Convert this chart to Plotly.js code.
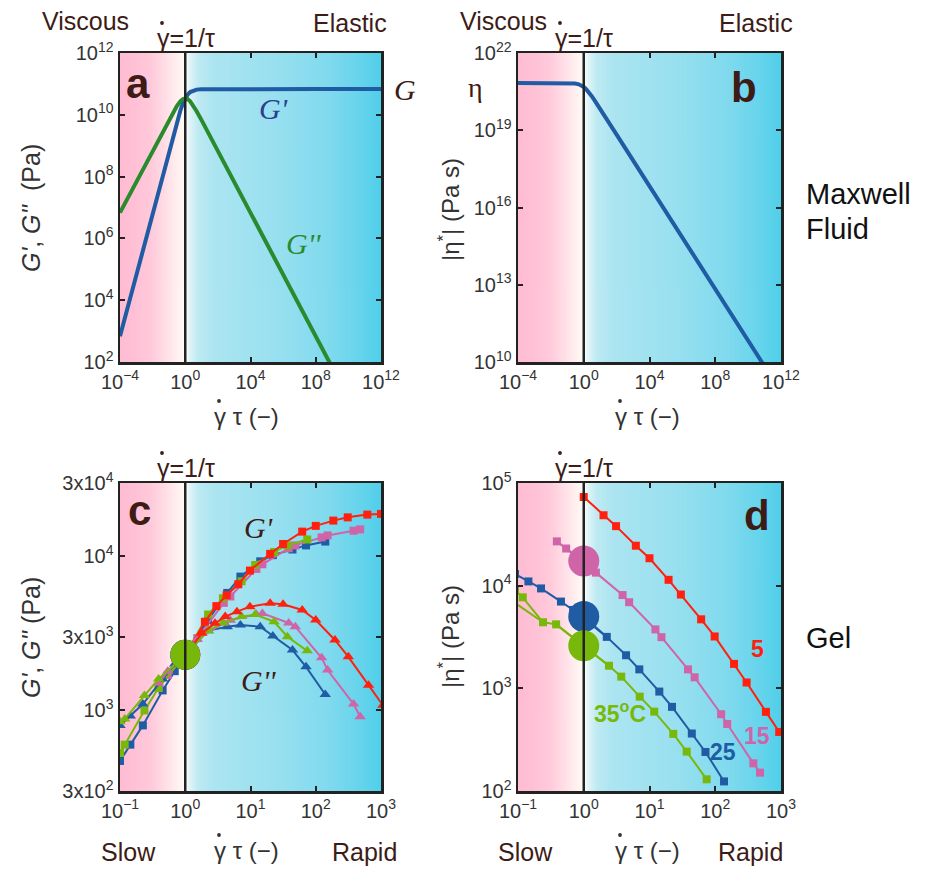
<!DOCTYPE html>
<html><head><meta charset="utf-8">
<script src="https://cdn.plot.ly/plotly-3.0.1.min.js"></script>
<style>html,body{margin:0;padding:0;background:#fff}#plot{width:925px;height:869px}</style>
</head><body><div id="plot"></div>
<script>
// ---------- Panel a: Maxwell fluid moduli ----------
const xA = [1e-4, 1e-3, 1e-2, 0.1, 0.3, 0.5, 0.7, 1, 1.4, 2, 3, 5, 10, 100, 1e4, 1e8, 1e12];
const aGp = [6.8e2, 6.8e4, 6.8e6, 6.73e8, 5.6e9, 1.36e10, 2.24e10, 3.4e10, 4.5e10, 5.44e10, 6.12e10, 6.54e10, 6.73e10, 6.8e10, 6.8e10, 6.8e10, 6.8e10];
const xA2 = [1e-4, 1e-3, 1e-2, 0.1, 0.3, 0.5, 0.7, 1, 1.4, 2, 3, 5, 10, 100, 1e4, 1e8, 1e9];
const aGpp = [6.8e6, 6.8e7, 6.8e8, 6.73e9, 1.87e10, 2.72e10, 3.19e10, 3.4e10, 3.22e10, 2.72e10, 2.04e10, 1.31e10, 6.73e9, 6.8e8, 6.8e6, 6.8e2, 68];
// ---------- Panel b: Maxwell fluid complex viscosity ----------
const xB = [1e-4, 1e-2, 0.1, 0.3, 0.5, 0.7, 1, 1.4, 2, 3, 5, 10, 100, 1e4, 1e8, 1e12];
const bEta = [6.8e20, 6.8e20, 6.77e20, 6.51e20, 6.08e20, 5.57e20, 4.81e20, 3.95e20, 3.04e20, 2.15e20, 1.33e20, 6.77e19, 6.8e18, 6.8e16, 6.8e12, 6.8e8];
// ---------- Panel c: gel moduli at 5, 15, 25, 35 °C ----------
const cRedX   = [1, 2.0, 3.0, 4.3, 6.5, 9.8, 20, 31.6, 62, 100, 186, 309, 617, 1000];
const cRedGp  = [2300, 3770, 4760, 5600, 6600, 8100, 10400, 12050, 14500, 15800, 17100, 17950, 18700, 18900];
const cRedX2  = [1, 1.8, 2.86, 4.1, 6.2, 9.8, 20, 31.6, 62, 100, 197, 316, 645, 1070];
const cRedGpp = [2300, 3170, 3680, 4070, 4380, 4720, 4960, 4900, 4490, 3870, 2870, 2230, 1460, 1080];
const cPinkX  = [0.39, 0.54, 1, 1.53, 3.9, 4.9, 12.3, 15.2, 38.5, 48.6, 123, 152, 380, 480];
const cPinkGp = [1400, 1700, 2300, 2950, 5000, 5500, 8300, 8900, 11300, 11800, 13300, 13700, 14700, 15000];
const cPinkGpp= [1500, 1800, 2300, 2900, 3700, 3850, 4200, 4270, 3700, 3500, 2200, 1830, 1100, 912];
const cBlueX  = [0.1, 0.144, 0.224, 0.45, 0.69, 1, 2.24, 4.4, 7, 14.1, 22, 44, 71, 140];
const cBlueGp = [470, 600, 800, 1350, 1800, 2300, 3870, 5800, 7400, 9300, 10200, 11100, 11800, 12500];
const cBlueGpp= [800, 920, 1100, 1600, 2000, 2300, 3300, 3500, 3590, 3500, 3050, 2470, 1920, 1270];
const cGreenX  = [0.1, 0.118, 0.237, 0.39, 1, 2.24, 3.78, 7.3, 11.8, 23, 36.8, 74];
const cGreenGp = [530, 600, 1000, 1400, 2300, 4200, 5350, 6900, 8800, 10700, 11800, 12900];
const cGreenGpp= [845, 880, 1250, 1600, 2300, 3300, 3700, 4070, 4200, 3770, 3010, 2440];
const cCross = [2300];
// ---------- Panel d: gel complex viscosity ----------
const dRedX = [1, 2.0, 3.1, 6.2, 10, 19.5, 30, 61, 98, 193, 300, 590, 940];
const dRed  = [73000, 48500, 38000, 24500, 18500, 11400, 8200, 4700, 3200, 1730, 1140, 590, 376];
const dPinkX = [0.39, 0.54, 1.53, 3.9, 4.9, 12.3, 15.2, 38.5, 48.6, 123, 152, 380, 480];
const dPink  = [27000, 23000, 13400, 8100, 6900, 3750, 3150, 1530, 1280, 560, 450, 186, 151];
const dBlueX = [0.09, 0.144, 0.224, 0.45, 0.69, 2.24, 4.4, 7, 14.1, 22, 44, 71, 136];
const dBlue  = [13000, 11000, 9400, 7000, 5800, 3170, 2100, 1530, 930, 660, 363, 240, 124];
const dGreenX = [0.09, 0.118, 0.24, 0.38, 2.42, 3.72, 7.1, 11.8, 23, 36.8, 74];
const dGreen  = [9000, 7700, 4400, 4200, 1660, 1300, 830, 593, 360, 242, 130];
const dGreenLoopX = [0.09, 0.24];
const dGreenLoop  = [6800, 4400];
const dDotX = [1, 1, 1];
const dDotY = [17400, 5000, 2600];
// tick labels
const tA_x = [1e-4, 1, 1e4, 1e8, 1e12], tA_xt = ['10<sup>−4</sup>','10<sup>0</sup>','10<sup>4</sup>','10<sup>8</sup>','10<sup>12</sup>'];
const tA_y = [1e2,1e4,1e6,1e8,1e10,1e12], tA_yt = ['10<sup>2</sup>','10<sup>4</sup>','10<sup>6</sup>','10<sup>8</sup>','10<sup>10</sup>','10<sup>12</sup>'];
const tB_y = [1e10,1e13,1e16,1e19,1e22], tB_yt = ['10<sup>10</sup>','10<sup>13</sup>','10<sup>16</sup>','10<sup>19</sup>','10<sup>22</sup>'];
const tC_x = [0.1,1,10,100,1000], tC_xt = ['10<sup>−1</sup>','10<sup>0</sup>','10<sup>1</sup>','10<sup>2</sup>','10<sup>3</sup>'];
const tC_y = [300,1000,3000,10000,30000], tC_yt = ['3x10<sup>2</sup>','10<sup>3</sup>','3x10<sup>3</sup>','10<sup>4</sup>','3x10<sup>4</sup>'];
const tD_y = [100,1000,10000,100000], tD_yt = ['10<sup>2</sup>','10<sup>3</sup>','10<sup>4</sup>','10<sup>5</sup>'];

const RED='#FF2010', PINK='#CF64A8', BLUE='#1F5CA4', GREEN='#78B80A', BROWN='#3D1C16';
const W=925, H=869;
const px = v => v/W, py = v => 1 - v/H;
const dXL=[px(120),px(381)], dXR=[px(518),px(781)];
const dYT=[py(362),py(53)], dYB=[py(791),py(483)];

function grad(){
  const c=document.createElement('canvas'); c.width=800; c.height=2;
  const g=c.getContext('2d'); const lg=g.createLinearGradient(0,0,800,0);
  const st=[[0,'#FFBCD3'],[0.06,'#FFC1D6'],[0.12,'#FFCADB'],[0.19,'#FFE4EA'],[0.247,'#FFFBF5'],[0.253,'#F8FDFD'],[0.27,'#DDF3F6'],[0.3,'#BEEAF3'],[0.36,'#ACE5F1'],[0.6,'#98E0F0'],[0.8,'#80DAEE'],[0.92,'#66D4EC'],[1,'#50CFEA']];
  st.forEach(s=>lg.addColorStop(s[0],s[1])); g.fillStyle=lg; g.fillRect(0,0,800,2);
  return c.toDataURL();
}
const src=grad();
function img(dx,dy){return {source:src,xref:'paper',yref:'paper',x:dx[0],y:dy[1],sizex:dx[1]-dx[0],sizey:dy[1]-dy[0],sizing:'stretch',xanchor:'left',yanchor:'top',layer:'below'};}

const FONT='Liberation Sans, Arial, sans-serif', SERIF='Liberation Serif, Times New Roman, serif';
function ax(domain, range, tv, tt, anchor){
  return {type:'log', domain, range, tickvals:tv, ticktext:tt, ticks:'inside', ticklen:5, tickwidth:2, tickcolor:'#222',
    showline:true, linecolor:'#222', linewidth:2.5, mirror:'ticks', showgrid:false, zeroline:false, anchor,
    tickfont:{family:FONT,size:20,color:'#333'}, fixedrange:true};
}
function ln(x,y,xa,ya,color,w){return {x,y,xaxis:xa,yaxis:ya,mode:'lines',line:{color,width:w},hoverinfo:'skip'};}
function lm(x,y,xa,ya,color,sym,sz){return {x,y,xaxis:xa,yaxis:ya,mode:'lines+markers',line:{color,width:2},marker:{symbol:sym,size:sz,color},hoverinfo:'skip'};}

const data=[
  ln(xA,aGp,'x','y',BLUE,4), ln(xA2,aGpp,'x','y','#2A8A2E',4),
  ln(xB,bEta,'x2','y2',BLUE,4),
  lm(cBlueX,cBlueGp,'x3','y3',BLUE,'square',8), lm(cPinkX,cPinkGp,'x3','y3',PINK,'square',8),
  lm(cGreenX,cGreenGp,'x3','y3',GREEN,'square',8), lm(cRedX,cRedGp,'x3','y3',RED,'square',8),
  lm(cBlueX,cBlueGpp,'x3','y3',BLUE,'triangle-up',10), lm(cPinkX,cPinkGpp,'x3','y3',PINK,'triangle-up',10),
  lm(cGreenX,cGreenGpp,'x3','y3',GREEN,'triangle-up',10), lm(cRedX2,cRedGpp,'x3','y3',RED,'triangle-up',10),
  {x:[1,1,1,1],y:[cCross[0],cCross[0],cCross[0],cCross[0]],xaxis:'x3',yaxis:'y3',mode:'markers',marker:{size:30,color:[RED,PINK,BLUE,GREEN]},hoverinfo:'skip'},
  lm(dGreenLoopX,dGreenLoop,'x4','y4',GREEN,'square',0),
  lm(dGreenX,dGreen,'x4','y4',GREEN,'square',8), lm(dBlueX,dBlue,'x4','y4',BLUE,'square',8),
  lm(dPinkX,dPink,'x4','y4',PINK,'square',8), lm(dRedX,dRed,'x4','y4',RED,'square',8),
  ln([dPinkX[1],1,dPinkX[2]],[dPink[1],dDotY[0],dPink[2]],'x4','y4',PINK,2),
  ln([dBlueX[4],1,dBlueX[5]],[dBlue[4],dDotY[1],dBlue[5]],'x4','y4',BLUE,2),
  ln([dGreenX[3],1,dGreenX[4]],[dGreen[3],dDotY[2],dGreen[4]],'x4','y4',GREEN,2),
  {x:dDotX,y:dDotY,xaxis:'x4',yaxis:'y4',mode:'markers',marker:{size:31,color:[PINK,BLUE,GREEN]},hoverinfo:'skip'}
];

function ann(x,y,text,opt){return Object.assign({x:px(x),y:py(y),xref:'paper',yref:'paper',text,showarrow:false,xanchor:'center',yanchor:'middle',font:{family:FONT,size:25,color:BROWN}},opt||{});}
const gd='γ=1/τ';
const xt='γ τ (−)';
const annotations=[
  ann(85,21,'Viscous'), ann(350,23,'Elastic'),
  ann(503,21,'Viscous'), ann(756,23,'Elastic'),
  ann(155,38,gd,{xanchor:'left'}), ann(553,38,gd,{xanchor:'left'}),
  ann(155,468,gd,{xanchor:'left'}), ann(553,468,gd,{xanchor:'left'}),
  ann(138,84,'<b>a</b>',{font:{family:FONT,size:42,color:BROWN}}),
  ann(744,88,'<b>b</b>',{font:{family:FONT,size:42,color:BROWN}}),
  ann(139,510,'<b>c</b>',{font:{family:FONT,size:42,color:BROWN}}),
  ann(757,515,'<b>d</b>',{font:{family:FONT,size:42,color:BROWN}}),
  ann(405,90,'<i>G</i>',{font:{family:SERIF,size:30,color:BROWN}}),
  ann(273,108,"<i>G'</i>",{font:{family:SERIF,size:30,color:'#2A3F8F'}}),
  ann(303,243,"<i>G''</i>",{font:{family:SERIF,size:30,color:'#2A8A2E'}}),
  ann(476,88,'η',{font:{family:SERIF,size:28,color:BROWN}}),
  ann(258,527,"<i>G'</i>",{font:{family:SERIF,size:30,color:BROWN}}),
  ann(258,680,"<i>G''</i>",{font:{family:SERIF,size:30,color:BROWN}}),
  ann(212,416,xt,{xanchor:'left',font:{family:FONT,size:24,color:'#333'}}),
  ann(613,416,xt,{xanchor:'left',font:{family:FONT,size:24,color:'#333'}}),
  ann(212,850,xt,{xanchor:'left',font:{family:FONT,size:24,color:'#333'}}),
  ann(613,850,xt,{xanchor:'left',font:{family:FONT,size:24,color:'#333'}}),
  ann(31,208,"<i>G'</i>, <i>G''</i>  (Pa)",{textangle:-90,font:{family:FONT,size:25,color:'#333'}}),
  ann(31,637,"<i>G'</i>, <i>G''</i> (Pa)",{textangle:-90,font:{family:FONT,size:25,color:'#333'}}),
  ann(449,210,'|η<sup>*</sup>| (Pa s)',{textangle:-90,font:{family:FONT,size:24,color:'#333'}}),
  ann(449,637,'|η<sup>*</sup>| (Pa s)',{textangle:-90,font:{family:FONT,size:24,color:'#333'}}),
  ann(804,194,'Maxwell',{xanchor:'left',font:{family:FONT,size:29,color:'#111'}}),
  ann(804,229,'Fluid',{xanchor:'left',font:{family:FONT,size:29,color:'#111'}}),
  ann(804,638,'Gel',{xanchor:'left',font:{family:FONT,size:29,color:'#111'}}),
  ann(128,852,'Slow'), ann(364,852,'Rapid'), ann(525,852,'Slow'), ann(750,852,'Rapid'),
  ann(757,649,'<b>5</b>',{font:{family:FONT,size:23,color:RED}}),
  ann(757,736,'<b>15</b>',{font:{family:FONT,size:23,color:PINK}}),
  ann(723,752,'<b>25</b>',{font:{family:FONT,size:23,color:BLUE}}),
  ann(620,712,'<b>35<sup>o</sup>C</b>',{font:{family:FONT,size:23,color:GREEN}})
];
const shapes=[['x','y'],['x2','y2'],['x3','y3'],['x4','y4']].map(r=>({type:'line',xref:r[0],yref:r[1]+' domain',x0:1,x1:1,y0:0,y1:1,line:{color:'#222',width:2.5},layer:'above'}));
// dots over gamma (overdot notation)
function dot(x,y,c){const r=1.9;return {type:'circle',xref:'paper',yref:'paper',x0:px(x-r),x1:px(x+r),y0:py(y+r),y1:py(y-r),fillcolor:c,line:{width:0}};}
[[162,23,BROWN],[560,23,BROWN],[162,453,BROWN],[560,453,BROWN],[219,401,'#333'],[620,401,'#333'],[219,835,'#333'],[620,835,'#333']].forEach(d=>shapes.push(dot(d[0],d[1],d[2])));

const layout={width:W,height:H,margin:{l:0,r:0,t:0,b:0},showlegend:false,paper_bgcolor:'#fff',plot_bgcolor:'rgba(0,0,0,0)',
  xaxis:ax(dXL,[-4,12],tA_x,tA_xt,'y'), yaxis:ax(dYT,[2,12],tA_y,tA_yt,'x'),
  xaxis2:ax(dXR,[-4,12],tA_x,tA_xt,'y2'), yaxis2:ax(dYT,[10,22],tB_y,tB_yt,'x2'),
  xaxis3:ax(dXL,[-1,3],tC_x,tC_xt,'y3'), yaxis3:ax(dYB,[Math.log10(300),Math.log10(30000)],tC_y,tC_yt,'x3'),
  xaxis4:ax(dXR,[-1,3],tC_x,tC_xt,'y4'), yaxis4:ax(dYB,[2,5],tD_y,tD_yt,'x4'),
  images:[img(dXL,dYT),img(dXR,dYT),img(dXL,dYB),img(dXR,dYB)], annotations, shapes};
Plotly.newPlot('plot',data,layout,{displayModeBar:false,staticPlot:true});
</script></body></html>
